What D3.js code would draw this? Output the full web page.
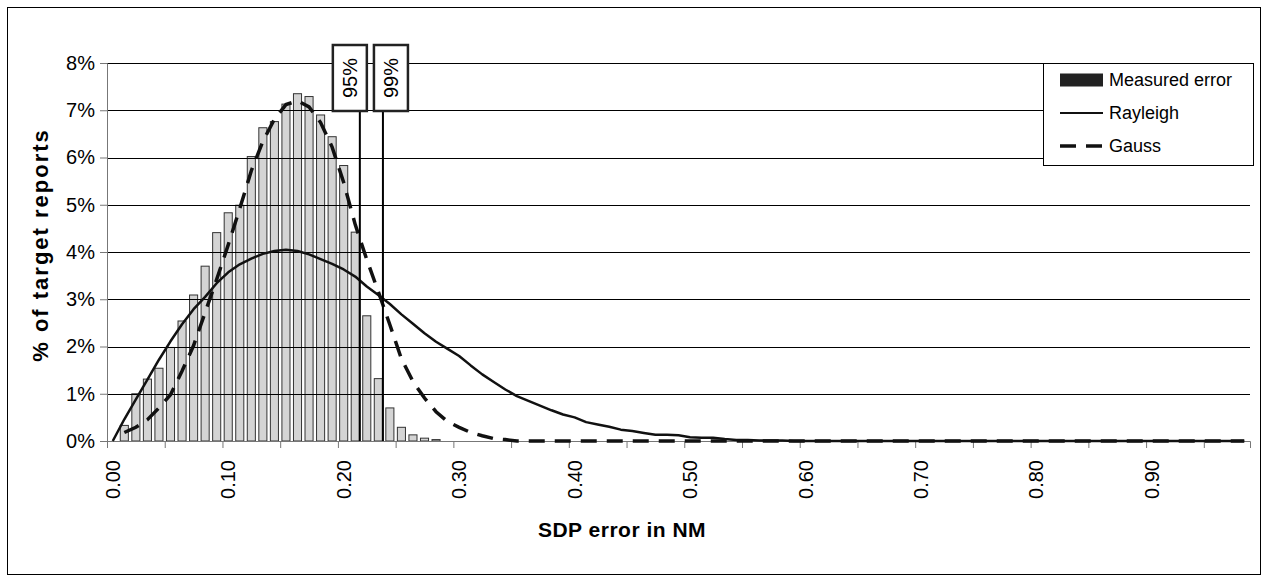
<!DOCTYPE html>
<html>
<head>
<meta charset="utf-8">
<script src="https://cdn.jsdelivr.net/npm/d3@7"></script>
<style>
  body { margin: 0; background: #fff; }
  svg { display: block; font-family: "Liberation Sans", Arial, sans-serif; }
</style>
</head>
<body>
<div id="chart"></div>
<script>
// Bins of 0.01 NM, 0.00 ... 0.98
const categories = d3.range(99).map(i => (i / 100).toFixed(2));
const xTickLabels = ["0.00", "0.10", "0.20", "0.30", "0.40", "0.50", "0.60", "0.70", "0.80", "0.90"];
const yTicks = [0, 1, 2, 3, 4, 5, 6, 7, 8];

// % of target reports per bin
const measured = [
  0, 0.33, 1.00, 1.31, 1.54, 1.98, 2.54, 3.09, 3.70, 4.41,
  4.83, 4.99, 6.02, 6.63, 6.76, 7.13, 7.35, 7.29, 6.90, 6.44,
  5.83, 4.42, 2.65, 1.32, 0.70, 0.29, 0.13, 0.06, 0.03, 0,
  0, 0, 0, 0, 0, 0, 0, 0, 0, 0,
  0, 0, 0, 0, 0, 0, 0, 0, 0, 0,
  0, 0, 0, 0, 0, 0, 0, 0, 0, 0,
  0, 0, 0, 0, 0, 0, 0, 0, 0, 0,
  0, 0, 0, 0, 0, 0, 0, 0, 0, 0,
  0, 0, 0, 0, 0, 0, 0, 0, 0, 0,
  0, 0, 0, 0, 0, 0, 0, 0, 0
];

const rayleigh = [
  0, 0.46, 0.88, 1.30, 1.72, 2.11, 2.47, 2.79, 3.05, 3.34,
  3.57, 3.74, 3.86, 3.96, 4.02, 4.05, 4.02, 3.95, 3.85, 3.75,
  3.63, 3.48, 3.27, 3.09, 2.90, 2.68, 2.48, 2.28, 2.10, 1.95,
  1.80, 1.60, 1.41, 1.25, 1.09, 0.95, 0.85, 0.75, 0.65, 0.56,
  0.50, 0.40, 0.35, 0.30, 0.24, 0.21, 0.17, 0.13, 0.13, 0.12,
  0.08, 0.07, 0.07, 0.04, 0.02, 0.02, 0.01, 0.01, 0.01, 0,
  0, 0, 0, 0, 0, 0, 0, 0, 0, 0,
  0, 0, 0, 0, 0, 0, 0, 0, 0, 0,
  0, 0, 0, 0, 0, 0, 0, 0, 0, 0,
  0, 0, 0, 0, 0, 0, 0, 0, 0
];

// Gauss has no point in the 0.00 bin
const gauss = [
  null, 0.18, 0.29, 0.45, 0.70, 0.98, 1.48, 2.02, 2.72, 3.42,
  4.15, 4.92, 5.72, 6.34, 6.81, 7.12, 7.20, 7.07, 6.74, 6.22,
  5.47, 4.58, 3.84, 3.16, 2.46, 1.74, 1.26, 0.91, 0.62, 0.41,
  0.29, 0.18, 0.11, 0.05, 0.03, 0, 0, 0, 0, 0,
  0, 0, 0, 0, 0, 0, 0, 0, 0, 0,
  0, 0, 0, 0, 0, 0, 0, 0, 0, 0,
  0, 0, 0, 0, 0, 0, 0, 0, 0, 0,
  0, 0, 0, 0, 0, 0, 0, 0, 0, 0,
  0, 0, 0, 0, 0, 0, 0, 0, 0, 0,
  0, 0, 0, 0, 0, 0, 0, 0, 0
];

// percentile markers (NM)
const markers = [
  { label: "95%", value: 0.214, shift: -10 },
  { label: "99%", value: 0.234, shift: 8 }
];

const width = 1268, height = 582;
const plotLeft = 107, plotRight = 1250, plotTop = 63, plotBottom = 441;

const svg = d3.select("#chart").append("svg")
  .attr("width", width)
  .attr("height", height);

// outer chart border
svg.append("rect")
  .attr("x", 7.5).attr("y", 7.5)
  .attr("width", 1253).attr("height", 567)
  .attr("fill", "none")
  .attr("stroke", "#000")
  .attr("stroke-width", 1);

const x = d3.scaleBand()
  .domain(categories)
  .range([plotLeft, plotRight])
  .paddingInner(0.3)
  .paddingOuter(0.15);

const cx = d => x(d) + x.bandwidth() / 2;
// continuous position in NM, bin centres at value + 0.005
const xv = v => plotLeft + (v / 0.01 + 0.5) * x.step();

const y = d3.scaleLinear().domain([0, 8]).range([plotBottom, plotTop]);

// bars
svg.append("g")
  .selectAll("rect")
  .data(categories.map((c, i) => ({ c, v: measured[i] })).filter(d => d.v > 0))
  .join("rect")
  .attr("x", d => x(d.c))
  .attr("y", d => y(d.v))
  .attr("width", x.bandwidth())
  .attr("height", d => y(0) - y(d.v))
  .attr("fill", "#d4d4d4")
  .attr("stroke", "#333")
  .attr("stroke-width", 1);

// gridlines
svg.append("g")
  .selectAll("line")
  .data(yTicks.filter(d => d > 0))
  .join("line")
  .attr("x1", plotLeft).attr("x2", plotRight)
  .attr("y1", d => Math.round(y(d)) + 0.5)
  .attr("y2", d => Math.round(y(d)) + 0.5)
  .attr("stroke", "#000")
  .attr("stroke-width", 1);

// y axis
const yAxis = svg.append("g")
  .attr("transform", `translate(${plotLeft},0)`)
  .call(d3.axisLeft(y).tickValues(yTicks).tickSize(7).tickPadding(5).tickFormat(d => d + "%"));
yAxis.selectAll("path, line").attr("stroke", "#777");
yAxis.selectAll("text").attr("font-size", 20).attr("fill", "#000");
yAxis.attr("font-family", null);

// x axis: tick marks every 5 bins, labels every 10 bins
const xl = d3.scaleLinear().domain([0, categories.length]).range([plotLeft, plotRight]);
const xAxis = svg.append("g")
  .attr("transform", `translate(0,${plotBottom})`)
  .call(d3.axisBottom(xl).tickValues(d3.range(0, categories.length, 5)).tickSize(7).tickFormat(""));
xAxis.selectAll("path, line").attr("stroke", "#777");

svg.append("g")
  .selectAll("text")
  .data(xTickLabels)
  .join("text")
  .attr("transform", d => `translate(${cx(d)},${plotBottom + 19}) rotate(-90)`)
  .attr("text-anchor", "end")
  .attr("dy", "0.35em")
  .attr("font-size", 20)
  .text(d => d);

// curves
const line = d3.line()
  .defined(d => d.v !== null)
  .x(d => cx(d.c))
  .y(d => y(d.v));

svg.append("path")
  .datum(categories.map((c, i) => ({ c, v: rayleigh[i] })))
  .attr("d", line)
  .attr("fill", "none")
  .attr("stroke", "#111")
  .attr("stroke-width", 2.5)
  .attr("stroke-linejoin", "round");

svg.append("path")
  .datum(categories.map((c, i) => ({ c, v: gauss[i] })))
  .attr("d", line)
  .attr("fill", "none")
  .attr("stroke", "#111")
  .attr("stroke-width", 3.5)
  .attr("stroke-dasharray", "16,10");

// percentile lines with boxed labels
const mk = svg.append("g")
  .selectAll("g")
  .data(markers)
  .join("g");

mk.append("line")
  .attr("x1", d => xv(d.value)).attr("x2", d => xv(d.value))
  .attr("y1", 111).attr("y2", plotBottom)
  .attr("stroke", "#000")
  .attr("stroke-width", 2);

mk.append("rect")
  .attr("x", d => xv(d.value) + d.shift - 17)
  .attr("y", 45)
  .attr("width", 34)
  .attr("height", 66)
  .attr("fill", "#fff")
  .attr("stroke", "#222")
  .attr("stroke-width", 2.5);

mk.append("text")
  .attr("transform", d => `translate(${xv(d.value) + d.shift},78) rotate(-90)`)
  .attr("text-anchor", "middle")
  .attr("dy", "0.35em")
  .attr("font-size", 20)
  .text(d => d.label);

// axis titles
svg.append("text")
  .attr("transform", `translate(40,245) rotate(-90)`)
  .attr("text-anchor", "middle")
  .attr("dy", "0.35em")
  .attr("font-size", 22)
  .attr("font-weight", "bold")
  .attr("letter-spacing", "2px")
  .text("% of target reports");

svg.append("text")
  .attr("x", 622)
  .attr("y", 530)
  .attr("text-anchor", "middle")
  .attr("dy", "0.35em")
  .attr("font-size", 21)
  .attr("font-weight", "bold")
  .attr("letter-spacing", "0.5px")
  .text("SDP error in NM");

// legend
const legend = svg.append("g").attr("transform", "translate(1043,63)");
legend.append("rect")
  .attr("x", 0.5).attr("y", 0.5)
  .attr("width", 210).attr("height", 102)
  .attr("fill", "#fff")
  .attr("stroke", "#000")
  .attr("stroke-width", 1);

const items = ["Measured error", "Rayleigh", "Gauss"];
const li = legend.selectAll("g.item")
  .data(items)
  .join("g")
  .attr("class", "item")
  .attr("transform", (d, i) => `translate(0,${17 + i * 33})`);

li.filter((d, i) => i === 0).append("rect")
  .attr("x", 17).attr("y", -6.5)
  .attr("width", 43).attr("height", 13)
  .attr("fill", "#222");
li.filter((d, i) => i === 1).append("line")
  .attr("x1", 17).attr("x2", 60)
  .attr("stroke", "#111").attr("stroke-width", 2);
li.filter((d, i) => i === 2).append("line")
  .attr("x1", 17).attr("x2", 60)
  .attr("stroke", "#111").attr("stroke-width", 3.5)
  .attr("stroke-dasharray", "16,10");

li.append("text")
  .attr("x", 66)
  .attr("dy", "0.35em")
  .attr("font-size", 18)
  .text(d => d);
</script>
</body>
</html>
